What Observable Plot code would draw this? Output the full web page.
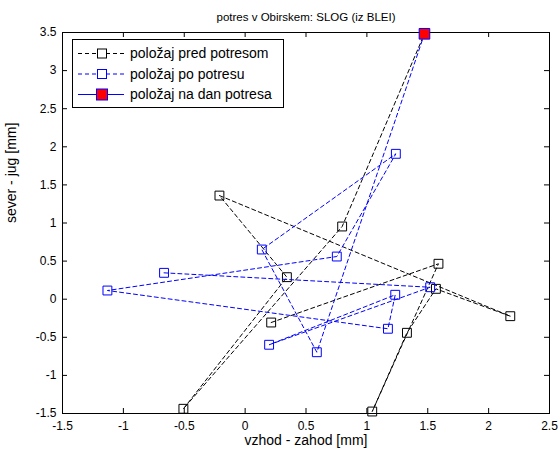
<!DOCTYPE html>
<html><head><meta charset="utf-8">
<script src="https://cdn.jsdelivr.net/npm/d3@7"></script>
<script src="https://cdn.jsdelivr.net/npm/@observablehq/plot@0.6"></script>
<style>
body{margin:0;background:#fff;}
#wrap{position:relative;width:560px;height:459px;font-family:"Liberation Sans",Arial,sans-serif;}
#legend{position:absolute;left:72px;top:39px;}
</style></head><body><div id="wrap"></div>
<script>
const title = "potres v Obirskem: SLOG (iz BLEI)";
const xLabel = "vzhod - zahod [mm]";
const yLabel = "sever - jug [mm]";
const seriesNames = ["položaj pred potresom", "položaj po potresu", "položaj na dan potresa"];

// položaj pred potresom (ends at the day of the earthquake)
const predX = [0.214, 1.588, 1.044, 1.329, 1.567, 2.178, -0.211, 0.343, -0.507, 0.797, 1.473];
const predY = [-0.306, 0.465, -1.474, -0.441, 0.136, -0.223, 1.360, 0.289, -1.438, 0.954, 3.483];
// položaj po potresu (starts at the day of the earthquake)
const poX = [1.473, 0.589, 0.137, 1.238, 0.753, -1.131, 1.173, 1.233, 0.197, 1.520, -0.666];
const poY = [3.483, -0.696, 0.652, 1.908, 0.560, 0.114, -0.388, 0.058, -0.598, 0.157, 0.346];
// položaj na dan potresa
const danX = [1.473];
const danY = [3.483];

const xTicks = [-1.5, -1, -0.5, 0, 0.5, 1, 1.5, 2, 2.5];
const xTickLabels = ["-1.5", "-1", "-0.5", "0", "0.5", "1", "1.5", "2", "2.5"];
const yTicks = [-1.5, -1, -0.5, 0, 0.5, 1, 1.5, 2, 2.5, 3, 3.5];
const yTickLabels = ["-1.5", "-1", "-0.5", "0", "0.5", "1", "1.5", "2", "2.5", "3", "3.5"];

const W = 560, H = 459, mL = 62, mR = 11, mT = 32, mB = 46;
const fW = W - mL - mR, fH = H - mT - mB, tk = 5;

const pred = predX.map((x, i) => ({x, y: predY[i]}));
const po = poX.map((x, i) => ({x, y: poY[i]}));
const dan = danX.map((x, i) => ({x, y: danY[i]}));

const blue = "#0000ff";
const chart = Plot.plot({
  width: W, height: H,
  marginLeft: mL, marginRight: mR, marginTop: mT, marginBottom: mB,
  style: {fontFamily: "'Liberation Sans', Arial, sans-serif", fontSize: "12px", color: "#000", background: "#fff"},
  x: {domain: [-1.5, 2.5], ticks: xTicks, tickFormat: d => xTickLabels[xTicks.indexOf(d)], tickSize: 0, tickPadding: 8, label: null},
  y: {domain: [-1.5, 3.5], ticks: yTicks, tickFormat: d => yTickLabels[yTicks.indexOf(d)], tickSize: 0, tickPadding: 6, label: null},
  marks: [
    Plot.frame({stroke: "#000"}),
    Plot.tickX(xTicks, {x: d => d, insetTop: fH - tk, stroke: "#000"}),
    Plot.tickX(xTicks, {x: d => d, insetBottom: fH - tk, stroke: "#000"}),
    Plot.tickY(yTicks, {y: d => d, insetRight: fW - tk, stroke: "#000"}),
    Plot.tickY(yTicks, {y: d => d, insetLeft: fW - tk, stroke: "#000"}),
    Plot.line(pred, {x: "x", y: "y", stroke: "#000", strokeWidth: 1, strokeDasharray: "4,3", curve: "linear"}),
    Plot.dot(pred.slice(0, -1), {x: "x", y: "y", symbol: "square", r: 5, stroke: "#000", fill: "none", strokeWidth: 1}),
    Plot.line(po, {x: "x", y: "y", stroke: blue, strokeWidth: 1, strokeDasharray: "4,3", curve: "linear"}),
    Plot.dot(po.slice(1), {x: "x", y: "y", symbol: "square", r: 5, stroke: blue, fill: "none", strokeWidth: 1}),
    Plot.dot(dan, {x: "x", y: "y", symbol: "square", r: 6, stroke: blue, fill: "#ff0000", strokeWidth: 1}),
    Plot.text([title], {text: d => d, frameAnchor: "top", dy: -20, fontSize: 11.5}),
    Plot.text([xLabel], {text: d => d, frameAnchor: "bottom", dy: 31, fontSize: 14}),
    Plot.text([yLabel], {text: d => d, frameAnchor: "left", dx: -51, rotate: -90, fontSize: 14})
  ]
});
document.getElementById("wrap").appendChild(chart);

// legend
const lg = d3.select("#wrap").append("svg").attr("id", "legend")
  .attr("width", 212).attr("height", 69)
  .style("font-family", "'Liberation Sans', Arial, sans-serif");
lg.append("rect").attr("x", 0.5).attr("y", 0.5).attr("width", 211).attr("height", 68)
  .attr("fill", "#fff").attr("stroke", "#000");
const rows = [
  {name: seriesNames[0], stroke: "#000", dash: "4,3", fill: "none", s: 9},
  {name: seriesNames[1], stroke: blue, dash: "4,3", fill: "none", s: 9},
  {name: seriesNames[2], stroke: blue, dash: null, fill: "#ff0000", s: 11}
];
rows.forEach((r, i) => {
  const cy = 14.5 + i * 20.5;
  lg.append("line").attr("x1", 6).attr("x2", 52).attr("y1", cy).attr("y2", cy)
    .attr("stroke", r.stroke).attr("stroke-dasharray", r.dash);
  lg.append("rect").attr("x", 30 - r.s / 2).attr("y", cy - r.s / 2).attr("width", r.s).attr("height", r.s)
    .attr("fill", r.fill === "none" ? "#fff" : r.fill).attr("stroke", r.stroke);
  lg.append("text").attr("x", 58).attr("y", cy).attr("dy", "0.35em").attr("font-size", 14).text(r.name);
});
</script>
</body></html>
